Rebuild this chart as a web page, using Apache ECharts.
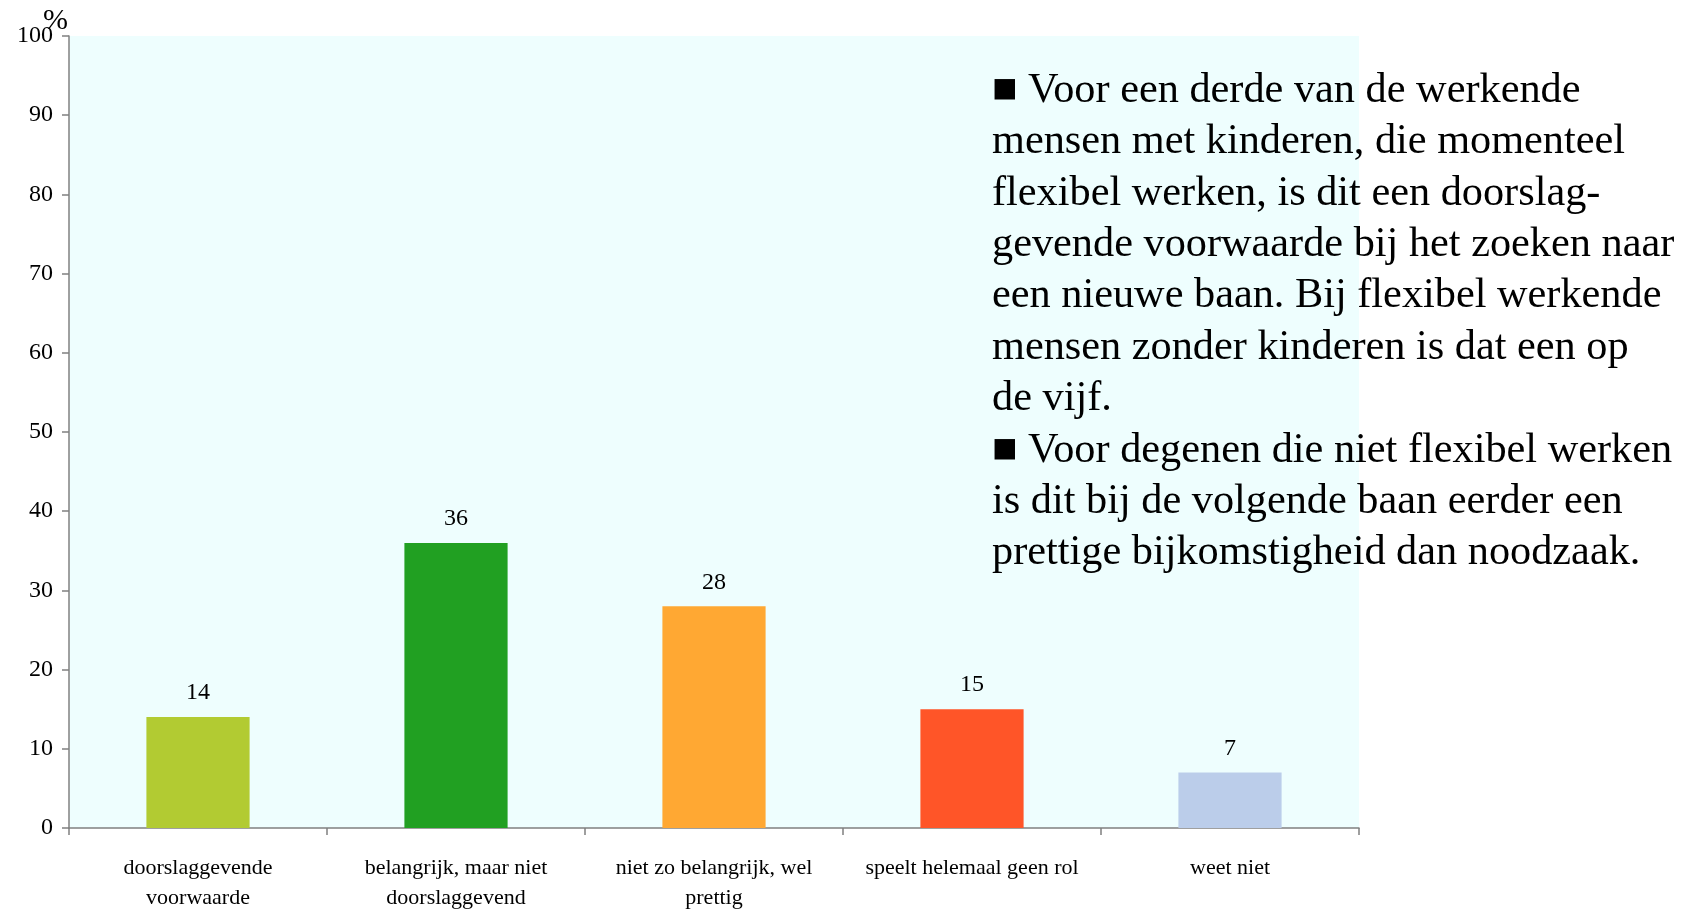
<!DOCTYPE html>
<html>
<head>
<meta charset="utf-8">
<script src="https://cdn.jsdelivr.net/npm/echarts@6/dist/echarts.min.js"></script>
<style>
  html, body { margin: 0; padding: 0; background: #fff; }
  #chart { width: 1691px; height: 909px; }
</style>
</head>
<body>
<div id="chart"></div>
<script>
  var categories = ['doorslaggevende\nvoorwaarde', 'belangrijk, maar niet\ndoorslaggevend', 'niet zo belangrijk, wel\nprettig', 'speelt helemaal geen rol', 'weet niet'];
  var values = [14, 36, 28, 15, 7];
  var barColors = ['#B2CB32', '#21A022', '#FFA833', '#FF5528', '#BBCDEA'];
  var noteLines = [
    '\u25A0 Voor een derde van de werkende',
    'mensen met kinderen, die momenteel',
    'flexibel werken, is dit een doorslag-',
    'gevende voorwaarde bij het zoeken naar',
    'een nieuwe baan. Bij flexibel werkende',
    'mensen zonder kinderen is dat een op',
    'de vijf.',
    '\u25A0 Voor degenen die niet flexibel werken',
    'is dit bij de volgende baan eerder een',
    'prettige bijkomstigheid dan noodzaak.'
  ];

  var font = '"Liberation Serif", "DejaVu Serif", serif';
  var chart = echarts.init(document.getElementById('chart'));

  chart.setOption({
    animation: false,
    textStyle: { fontFamily: font },
    grid: {
      left: 69, top: 36, right: 332, bottom: 81,
      outerBoundsMode: 'none',
      show: true, backgroundColor: '#EEFEFE', borderWidth: 0
    },
    xAxis: {
      type: 'category',
      data: categories,
      axisLine: { lineStyle: { color: '#808080', width: 1.5 } },
      axisTick: { show: true, interval: 0, length: 7, lineStyle: { color: '#808080', width: 1.5 } },
      axisLabel: { interval: 0, color: '#000', fontSize: 22, margin: 25, lineHeight: 30, fontFamily: font }
    },
    yAxis: {
      type: 'value',
      min: 0, max: 100, interval: 10,
      axisLine: { show: true, lineStyle: { color: '#808080', width: 1.5 } },
      axisTick: { show: true, length: 7, lineStyle: { color: '#808080', width: 1.5 } },
      axisLabel: { color: '#000', fontSize: 24, margin: 16, fontFamily: font },
      splitLine: { show: false }
    },
    series: [{
      type: 'bar',
      barWidth: '40%',
      data: values.map(function (v, i) {
        return { value: v, itemStyle: { color: barColors[i] } };
      }),
      label: { show: true, position: 'top', distance: 12, color: '#000', fontSize: 24, fontFamily: font }
    }],
    graphic: [{
      type: 'text',
      left: 43,
      top: 6,
      style: { text: '%', font: '30px ' + font, fill: '#000' }
    }, {
      type: 'text',
      left: 992,
      top: 65,
      style: {
        text: noteLines.join('\n'),
        font: '42.3px ' + font,
        fill: '#000',
        lineHeight: 51.4
      }
    }]
  });
</script>
</body>
</html>
